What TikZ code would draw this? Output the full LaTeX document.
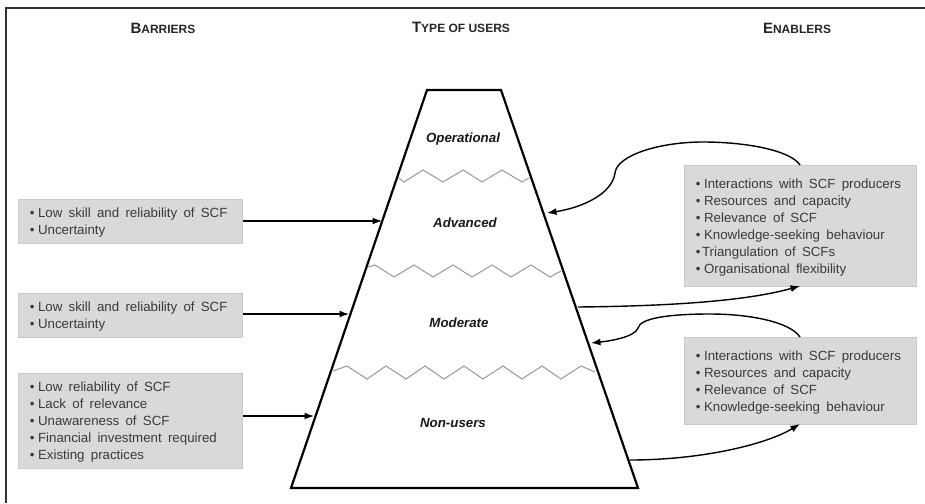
\documentclass[tikz,border=0pt]{standalone}
\usepackage{fontspec}
\setmainfont{Liberation Sans}
\usetikzlibrary{arrows.meta}
\definecolor{boxfill}{HTML}{D9D9D9}
\definecolor{boxline}{HTML}{C9C9C9}
\definecolor{boxtext}{HTML}{3A3A3A}
\definecolor{zig}{HTML}{989898}
\newcommand{\bul}[1]{\makebox[8.2pt][l]{\textbullet}#1\par}
\newcommand{\bulnarrow}[1]{\makebox[6.2pt][l]{\textbullet}#1\par}
\newcommand{\hdrcap}[2]{{\fontsize{15}{16}\selectfont\bfseries #1}{\fontsize{12}{14}\selectfont\bfseries #2}}
\tikzset{
  x=1pt,y=-1pt,
  barrierbox/.style={draw=boxline,fill=boxfill,line width=0.7pt,anchor=north west,inner xsep=0pt,inner ysep=0pt,
    text=boxtext,font=\fontsize{13.3}{17}\selectfont},
  pyramid/.style={line width=2.2pt,line join=miter},
  zigline/.style={draw=zig,line width=1pt},
  conn/.style={line width=1.4pt,-{Latex[length=9.5pt,width=7pt]}},
  frameline/.style={draw=black!80,line width=1.6pt},
  level/.style={font=\fontsize{13.3}{15}\selectfont\bfseries\itshape,text=black!90},
  header/.style={text=black!85},
}
\newcommand{\boxcontent}[3]{\begin{minipage}[c][#2pt][c]{#1pt}\spaceskip=0.47em\relax\parindent=0pt\leftskip=11.5pt\relax\vspace*{3pt}#3\end{minipage}}
\begin{document}
\begin{tikzpicture}
\useasboundingbox (0,0) rectangle (925,503);
\fill[white] (0,0) rectangle (925,503);
\draw[frameline] (6,503) -- (6,8) -- (925,8);

\node[header] (hbar) at (163,28) {\hdrcap{B}{ARRIERS}};
\node[header] (htyp) at (461,27) {\hdrcap{T}{YPE OF USERS}};
\node[header] (hena) at (797,28) {\hdrcap{E}{NABLERS}};

\draw[pyramid] (427,90) -- (501,90) -- (638,488) -- (291,488) -- cycle;

\draw[zigline] (399,178) -- (404,182) -- (423,170) -- (443,182) -- (463,170) -- (482,182) -- (502,170) -- (522,182) -- (529,178);
\draw[zigline] (368,267) -- (375,265) -- (394,277) -- (414,265) -- (433,277) -- (453,265) -- (472,277) -- (492,265) -- (511,277) -- (531,265) -- (550,277) -- (561,271);
\draw[zigline] (333,371) -- (347,366) -- (367,379) -- (386,366) -- (406,379) -- (425,366) -- (444,379) -- (464,366) -- (483,379) -- (503,366) -- (522,379) -- (542,366) -- (561,379) -- (581,366) -- (595,372);

\node[level] (op) at (463,139) {Operational};
\node[level] (adv) at (465,223) {Advanced};
\node[level] (mod) at (459,323) {Moderate};
\node[level] (non) at (453,423) {Non-users};

\node[barrierbox] (b1) at (18,199) {\boxcontent{224}{44}{\bul{Low skill and reliability of SCF}\bul{Uncertainty}}};
\node[barrierbox] (b2) at (18,293) {\boxcontent{224}{44}{\bul{Low skill and reliability of SCF}\bul{Uncertainty}}};
\node[barrierbox] (b3) at (18,373) {\boxcontent{224}{95}{\bul{Low reliability of SCF}\bul{Lack of relevance}\bul{Unawareness of SCF}\bul{Financial investment required}\bul{Existing practices}}};
\node[barrierbox] (e1) at (684,165) {\boxcontent{232}{121}{\bul{Interactions with SCF producers}\bul{Resources and capacity}\bul{Relevance of SCF}\bul{Knowledge-seeking behaviour}\bulnarrow{Triangulation of SCFs}\bul{Organisational flexibility}}};
\node[barrierbox] (e2) at (684,337) {\boxcontent{232}{87}{\bul{Interactions with SCF producers}\bul{Resources and capacity}\bul{Relevance of SCF}\bul{Knowledge-seeking behaviour}}};

\coordinate (pl1) at (382,221);
\coordinate (pl2) at (349,314);
\coordinate (pl3) at (314,416);
\coordinate (pr1) at (547,213);
\coordinate (pr2) at (578,307);
\coordinate (pr3) at (591,343);
\coordinate (pr4) at (630,460);
\coordinate (e1t) at (800,165);
\coordinate (e1b) at (800,286);
\coordinate (e2t) at (800,337);
\coordinate (e2b) at (800,424);

\draw[conn] (b1.east |- pl1) -- (pl1);
\draw[conn] (b2.east |- pl2) -- (pl2);
\draw[conn] (b3.east |- pl3) -- (pl3);
\draw[conn] (e1t) .. controls (790,150) and (745,142) .. (703,142) .. controls (660,142) and (617,155) .. (615,173) .. controls (612,195) and (580,208) .. (pr1);
\draw[conn] (pr2) .. controls (680,306) and (750,300) .. (e1b);
\draw[conn] (e2t) .. controls (790,322) and (750,314) .. (710,314) .. controls (670,314) and (640,318) .. (638,328) .. controls (635,337) and (610,341) .. (pr3);
\draw[conn] (pr4) .. controls (700,460) and (765,445) .. (e2b);
\end{tikzpicture}
\end{document}
